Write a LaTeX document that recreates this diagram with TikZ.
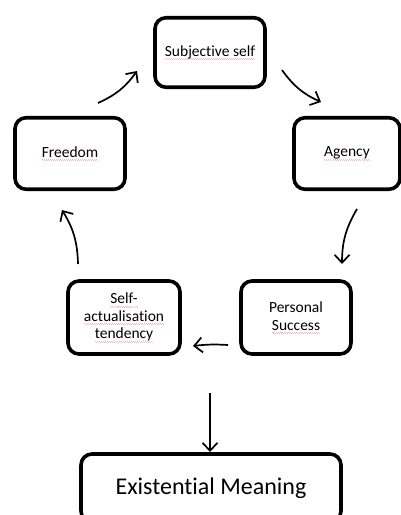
\documentclass[tikz,border=0pt]{standalone}
\usepackage{fontspec}
\setmainfont{Carlito}[Ligatures=NoCommon]
\usetikzlibrary{arrows.meta}
% faint wavy spell-check underline beneath a word
\newsavebox\spellbox
\newcommand\spellmark[1]{\sbox\spellbox{#1}\leavevmode
  \rlap{\color{red!28}\xleaders\hbox{\rule[-2.6pt]{1pt}{0.45pt}\rule[-3.2pt]{1pt}{0.45pt}}\hskip\wd\spellbox}%
  \usebox\spellbox}
\begin{document}
\begin{tikzpicture}[x=1pt,y=-1pt,
  stage/.style={draw, line width=3.6pt, rounded corners=11pt, inner sep=0pt,
    align=center, font=\fontsize{15.5}{17.5}\selectfont},
  flow/.style={line width=1.7pt,
    -{Straight Barb[length=8pt,width=15pt,line width=1.7pt]}}]
\clip (0,0) rectangle (401,515);
\useasboundingbox (0,0) rectangle (401,515);

% the cycle
\node[stage, minimum width=110pt, minimum height=69.5pt] (subj) at (210,52.5) {\spellmark{Subjective self}};
\node[stage, minimum width=110pt, minimum height=71.5pt] (free) at (70,153.5) {\spellmark{Freedom}};
\node[stage, minimum width=106pt, minimum height=71.5pt] (agen) at (347,153.5) {\spellmark{Agency}};
\node[stage, minimum width=112pt, minimum height=73pt] (self) at (124,317.5) {\spellmark{Self-}\\\spellmark{actualisation}\\\spellmark{tendency}};
\node[stage, minimum width=110pt, minimum height=73pt] (succ) at (296,317.5) {Personal\\\spellmark{Success}};

% outcome
\node[stage, minimum width=260pt, minimum height=68pt, font=\fontsize{24}{29}\selectfont] (mean) at (211,488) {Existential Meaning};

% arrow ends
\coordinate (a1) at (98,103);  \coordinate (b1) at (137,71);
\coordinate (a2) at (282,70);  \coordinate (b2) at (321,102);
\coordinate (a3) at (357,209); \coordinate (b3) at (342,264);
\coordinate (a4) at (228,345); \coordinate (b4) at (193,346);
\coordinate (a5) at (78,264);  \coordinate (b5) at (62,210);
\coordinate (a6) at (210,393); \coordinate (b6) at (210,452);

\draw[flow] (a1) to[bend right=15] (b1);
\draw[flow] (a2) to[bend right=15] (b2);
\draw[flow] (a3) to[bend right=15] (b3);
\draw[flow] (a4) to[bend right=5] (b4);
\draw[flow] (a5) to[bend right=15] (b5);
\draw[flow] (a6) -- (b6);
\end{tikzpicture}
\end{document}
